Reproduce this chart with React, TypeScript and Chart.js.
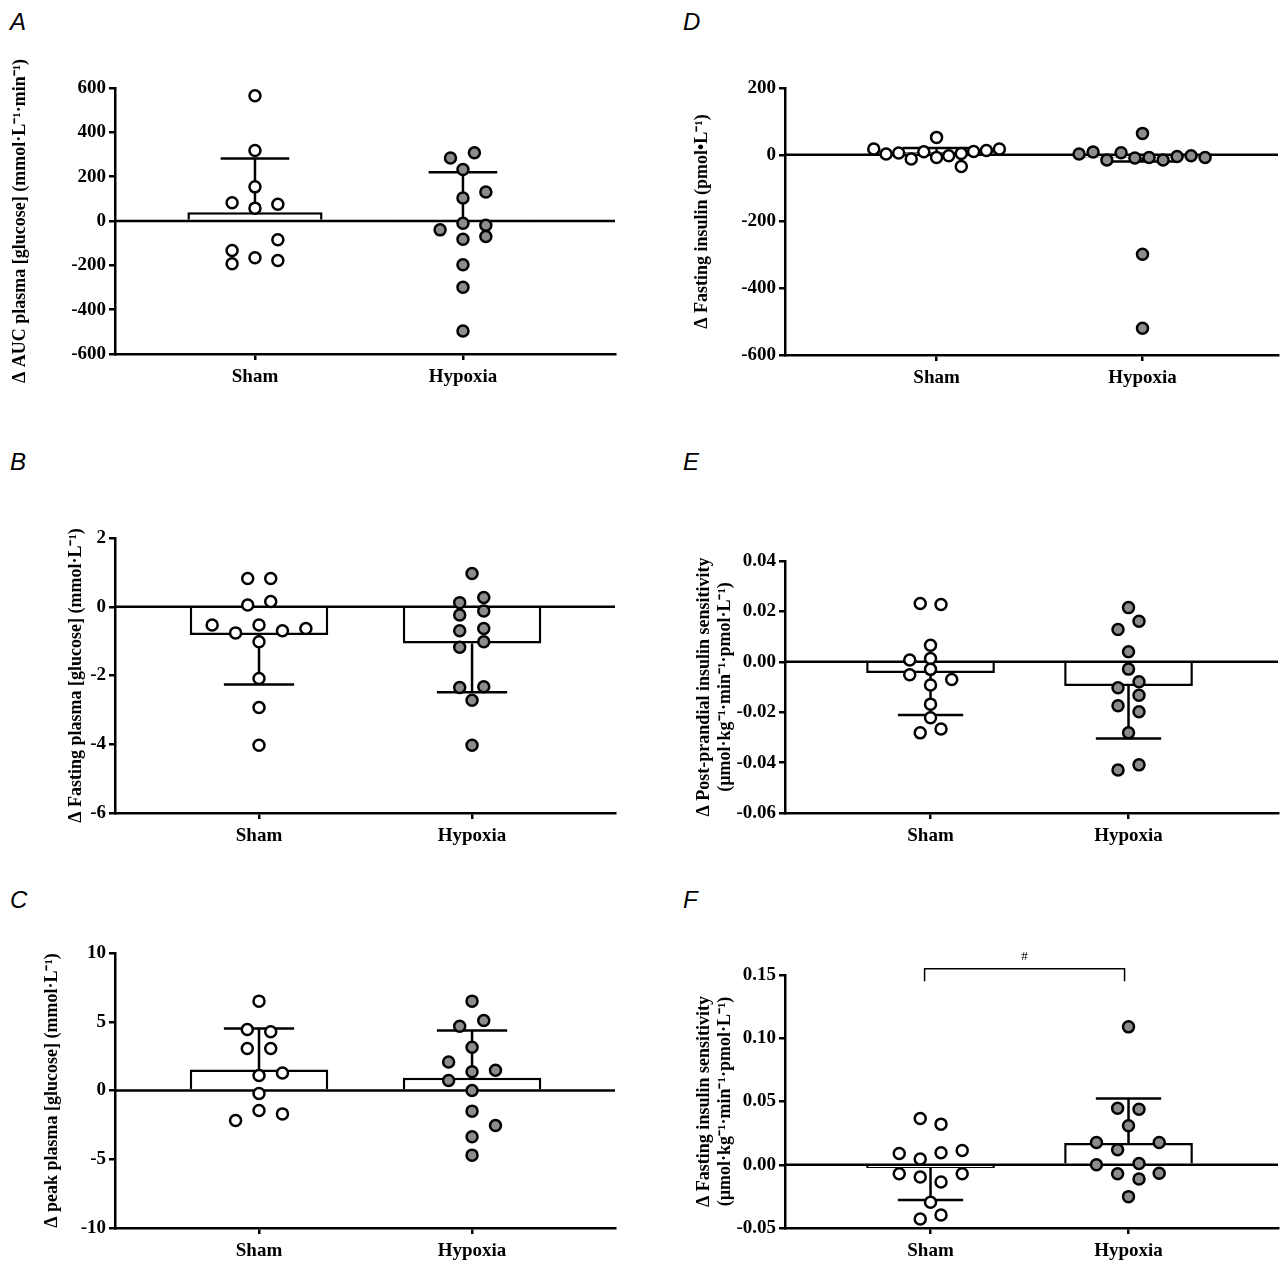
import { useEffect, useRef } from "react";
import Chart from "chart.js/auto";

const groups = ["Sham", "Hypoxia"];

// Panel A
const aTicks = [600, 400, 200, 0, -200, -400, -600];
const aMeans = [40, -3];
const aErrTips = [282, 220];
const aShamY = [565, 318, 154, 82, 58, 76, -85, -133, -193, -166, -178];
const aShamX = [0, 0, 0, -0.11, 0, 0.11, 0.11, -0.11, -0.11, 0, 0.11];
const aHypY = [284, 308, 232, 131, 104, -10, -19, -40, -70, -82, -197, -299, -496];
const aHypX = [-0.06, 0.055, 0, 0.11, 0, 0, 0.11, -0.11, 0.11, 0, 0, 0, 0];

// Panel B
const bTicks = [2, 0, -2, -4, -6];
const bMeans = [-0.82, -1.07];
const bErrTips = [-2.26, -2.49];
const bShamY = [0.82, 0.82, 0.05, 0.15, -0.53, -0.76, -0.53, -0.7, -0.63, -1.02, -2.09, -2.93, -4.03];
const bShamX = [-0.053, 0.055, -0.053, 0.055, -0.22, -0.11, 0, 0.11, 0.22, 0, 0, 0, 0];
const bHypY = [0.97, 0.12, 0.27, -0.24, -0.12, -0.7, -0.63, -1.18, -1.02, -2.35, -2.33, -2.72, -4.03];
const bHypX = [0, -0.058, 0.055, -0.058, 0.055, -0.058, 0.055, -0.058, 0.055, -0.058, 0.055, 0, 0];

// Panel C
const cTicks = [10, 5, 0, -5, -10];
const cMeans = [1.53, 0.92];
const cErrTips = [4.51, 4.36];
const cShamY = [6.5, 4.44, 4.27, 3.05, 3.05, 1.09, 1.28, -0.22, -1.45, -1.7, -2.18];
const cShamX = [0, -0.055, 0.055, -0.055, 0.055, 0, 0.11, 0, 0, 0.11, -0.11];
const cHypY = [6.5, 5.09, 4.68, 3.15, 2.08, 1.36, 1.48, 0.73, 0, -1.5, -2.55, -3.37, -4.7];
const cHypX = [0, 0.055, -0.058, 0, -0.11, 0, 0.11, -0.11, 0, 0, 0.11, 0, 0];

// Panel D
const dTicks = [200, 0, -200, -400, -600];
const dMeans = [8, -8];
const dErrTips = [20, -20];
const dShamY = [17, 2, 5, -13, 9, -8, -3, 4, -35, 10, 13, 17, 52];
const dShamX = [-0.305, -0.245, -0.184, -0.123, -0.062, 0, 0.059, 0.12, 0.12, 0.18, 0.242, 0.305, 0];
const dHypY = [2, 8, -16, 6, -10, -8, -16, -5, -3, -8, 64, -298, -520];
const dHypX = [-0.308, -0.24, -0.173, -0.104, -0.037, 0.032, 0.1, 0.168, 0.236, 0.304, 0, 0, 0];

// Panel E
const eTicks = [0.04, 0.02, 0, -0.02, -0.04, -0.06];
const eMeans = [-0.0044, -0.0096];
const eErrTips = [-0.0211, -0.0304];
const eShamY = [0.0231, 0.0227, 0.0066, 0.0007, 0.0013, -0.003, -0.0051, -0.007, -0.0092, -0.0168, -0.0222, -0.0282, -0.0267];
const eShamX = [-0.052, 0.053, 0, -0.105, 0, 0, -0.105, 0.107, 0, 0, 0, -0.052, 0.053];
const eHypY = [0.0215, 0.0161, 0.0128, 0.004, -0.0029, -0.0079, -0.0103, -0.0133, -0.0174, -0.0198, -0.0282, -0.0409, -0.0429];
const eHypX = [0, 0.053, -0.053, 0, 0, 0.053, -0.053, 0.053, -0.053, 0.053, 0, 0.053, -0.053];

// Panel F
const fTicks = [0.15, 0.1, 0.05, 0, -0.05];
const fMeans = [-0.0026, 0.0171];
const fErrTips = [-0.0279, 0.0523];
const fShamY = [0.0366, 0.0321, 0.0089, 0.0045, 0.0095, 0.0113, -0.0071, -0.0097, -0.0071, -0.0137, -0.0297, -0.0429, -0.0397];
const fShamX = [-0.052, 0.053, -0.158, -0.052, 0.053, 0.16, -0.158, -0.052, 0.16, 0.053, 0, -0.052, 0.053];
const fHypY = [0.109, 0.0447, 0.0439, 0.0308, 0.0176, 0.0176, 0.0118, 0, 0.001, -0.0071, -0.0068, -0.0113, -0.0252];
const fHypX = [0, -0.055, 0.053, 0, -0.162, 0.155, -0.055, -0.162, 0.053, -0.055, 0.155, 0.053, 0];

const SERIF = "'Liberation Serif', 'Times New Roman', serif";

interface PanelProps {
  left: number;
  top: number;
  width: number;
  height: number;
  plot: { l: number; r: number; t: number; b: number };
  xMin: number;
  xMax: number;
  padLeft: number;
  ticks: number[];
  tickLabel: (v: number) => string;
  title: string | string[];
  means: number[];
  errTips: number[];
  shamY: number[];
  shamX: number[];
  hypY: number[];
  hypX: number[];
  bracket?: boolean;
}

function Panel(p: PanelProps) {
  const ref = useRef<HTMLCanvasElement | null>(null);

  useEffect(() => {
    const canvas = ref.current;
    if (!canvas) return;
    const overlay = {
      id: "overlay",
      afterDatasetDraw(chart: any, args: any) {
        if (args.index !== 0) return;
        const { ctx, scales, chartArea } = chart;
        const x = scales.x;
        const y = scales.y;
        ctx.save();
        ctx.strokeStyle = "#000";
        ctx.lineWidth = 2.5;
        ctx.beginPath();
        ctx.moveTo(chartArea.left, y.getPixelForValue(0));
        ctx.lineTo(chartArea.right, y.getPixelForValue(0));
        ctx.stroke();
        p.means.forEach((m, i) => {
          const px = x.getPixelForValue(i);
          const y0 = y.getPixelForValue(m);
          const y1 = y.getPixelForValue(p.errTips[i]);
          ctx.beginPath();
          ctx.moveTo(px, y0);
          ctx.lineTo(px, y1);
          ctx.moveTo(x.getPixelForValue(i - 0.165), y1);
          ctx.lineTo(x.getPixelForValue(i + 0.165), y1);
          ctx.stroke();
        });
        ctx.restore();
      },
      afterDraw(chart: any) {
        if (!p.bracket) return;
        const { ctx, scales } = chart;
        const x = scales.x;
        const y = scales.y;
        const xl = x.getPixelForValue(-0.03);
        const xr = x.getPixelForValue(0.98);
        const yt = y.getPixelForValue(0.155);
        const yb = y.getPixelForValue(0.145);
        ctx.save();
        ctx.strokeStyle = "#000";
        ctx.lineWidth = 1.5;
        ctx.beginPath();
        ctx.moveTo(xl, yb);
        ctx.lineTo(xl, yt);
        ctx.lineTo(xr, yt);
        ctx.lineTo(xr, yb);
        ctx.stroke();
        ctx.fillStyle = "#000";
        ctx.font = `13px ${SERIF}`;
        ctx.textAlign = "center";
        ctx.fillText("#", (xl + xr) / 2, yt - 9);
        ctx.restore();
      },
    };

    const chart = new Chart(canvas, {
      type: "bar",
      data: {
        datasets: [
          {
            type: "bar",
            order: 3,
            data: p.means.map((m, i) => ({ x: i, y: m })),
            backgroundColor: "#fff",
            borderColor: "#000",
            borderWidth: 2.5,
            borderSkipped: "start",
            barPercentage: 0.65,
            categoryPercentage: 1,
          },
          {
            type: "scatter",
            order: 1,
            data: p.shamY.map((v, i) => ({ x: p.shamX[i], y: v })),
            backgroundColor: "#fff",
            borderColor: "#000",
            borderWidth: 2.5,
            pointRadius: 5.5,
          },
          {
            type: "scatter",
            order: 1,
            data: p.hypY.map((v, i) => ({ x: 1 + p.hypX[i], y: v })),
            backgroundColor: "#8c8c8c",
            borderColor: "#000",
            borderWidth: 2.5,
            pointRadius: 5.5,
          },
        ] as any,
      },
      options: {
        animation: false,
        responsive: false,
        layout: {
          padding: {
            left: p.padLeft,
            top: p.plot.t - p.top,
            right: p.left + p.width - p.plot.r,
            bottom: 0,
          },
        },
        plugins: { legend: { display: false }, tooltip: { enabled: false } },
        scales: {
          x: {
            type: "linear",
            min: p.xMin,
            max: p.xMax,
            offset: false,
            afterBuildTicks: (s: any) => {
              s.ticks = [{ value: 0 }, { value: 1 }];
            },
            afterFit: (s: any) => {
              s.height = p.top + p.height - p.plot.b;
            },
            ticks: {
              callback: (v: any) => groups[Number(v)] ?? "",
              color: "#000",
              font: { family: SERIF, size: 19, weight: "bold" },
              padding: 6,
              maxRotation: 0,
            },
            grid: { offset: false, drawOnChartArea: false, color: "#000", lineWidth: 2.5, tickLength: 6 },
            border: { color: "#000", width: 2.5 },
          },
          y: {
            min: p.ticks[p.ticks.length - 1],
            max: p.ticks[0],
            afterBuildTicks: (s: any) => {
              s.ticks = p.ticks.map((v) => ({ value: v }));
            },
            afterFit: (s: any) => {
              s.width = p.plot.l - p.left - p.padLeft;
            },
            ticks: {
              callback: (v: any) => p.tickLabel(Number(v)),
              color: "#000",
              font: { family: SERIF, size: 19, weight: "bold" },
              padding: 3,
            },
            grid: { drawOnChartArea: false, color: "#000", lineWidth: 2.5, tickLength: 6 },
            border: { color: "#000", width: 2.5 },
            title: {
              display: true,
              text: p.title,
              color: "#000",
              font: { family: SERIF, size: 18, weight: "bold", lineHeight: 1.15 },
              padding: 2,
            },
          },
        },
      } as any,
      plugins: [overlay],
    });
    return () => chart.destroy();
  }, [p]);

  return (
    <canvas
      ref={ref}
      width={p.width}
      height={p.height}
      style={{ position: "absolute", left: p.left, top: p.top, width: p.width, height: p.height }}
    />
  );
}

const letterStyle = (left: number, top: number): React.CSSProperties => ({
  position: "absolute",
  left,
  top,
  fontFamily: "'Liberation Sans', Arial, sans-serif",
  fontStyle: "italic",
  fontSize: 24,
  color: "#000",
});

const unit = "µmol·kg⁻¹·min⁻¹·pmol·L⁻¹";

const panels: PanelProps[] = [
  {
    left: 0, top: 40, width: 630, height: 360, plot: { l: 115, r: 615, t: 88, b: 354 },
    xMin: -0.673, xMax: 1.731, padLeft: 8, ticks: aTicks, tickLabel: (v) => String(v),
    title: "Δ AUC plasma [glucose] (mmol·L⁻¹·min⁻¹)",
    means: aMeans, errTips: aErrTips, shamY: aShamY, shamX: aShamX, hypY: aHypY, hypX: aHypX,
  },
  {
    left: 0, top: 470, width: 630, height: 390, plot: { l: 115, r: 615, t: 538, b: 813 },
    xMin: -0.676, xMax: 1.671, padLeft: 64, ticks: bTicks, tickLabel: (v) => String(v),
    title: "Δ Fasting plasma [glucose] (mmol·L⁻¹)",
    means: bMeans, errTips: bErrTips, shamY: bShamY, shamX: bShamX, hypY: bHypY, hypX: bHypX,
  },
  {
    left: 0, top: 895, width: 630, height: 366, plot: { l: 115, r: 615, t: 953, b: 1228 },
    xMin: -0.676, xMax: 1.671, padLeft: 40, ticks: cTicks, tickLabel: (v) => String(v),
    title: "Δ peak plasma [glucose] (mmol·L⁻¹)",
    means: cMeans, errTips: cErrTips, shamY: cShamY, shamX: cShamX, hypY: cHypY, hypX: cHypX,
  },
  {
    left: 650, top: 40, width: 636, height: 360, plot: { l: 785, r: 1283, t: 88, b: 355 },
    xMin: -0.736, xMax: 1.658, padLeft: 40, ticks: dTicks, tickLabel: (v) => String(v),
    title: "Δ Fasting insulin (pmol•L⁻¹)",
    means: dMeans, errTips: dErrTips, shamY: dShamY, shamX: dShamX, hypY: dHypY, hypX: dHypX,
  },
  {
    left: 650, top: 470, width: 636, height: 390, plot: { l: 785, r: 1283, t: 561, b: 813 },
    xMin: -0.735, xMax: 1.755, padLeft: 42, ticks: eTicks, tickLabel: (v) => v.toFixed(2),
    title: ["Δ Post-prandial insulin sensitivity", `(${unit})`],
    means: eMeans, errTips: eErrTips, shamY: eShamY, shamX: eShamX, hypY: eHypY, hypX: eHypX,
  },
  {
    left: 650, top: 895, width: 636, height: 366, plot: { l: 785, r: 1283, t: 975, b: 1228 },
    xMin: -0.735, xMax: 1.755, padLeft: 42, ticks: fTicks, tickLabel: (v) => v.toFixed(2),
    title: ["Δ Fasting insulin sensitivity", `(${unit})`],
    means: fMeans, errTips: fErrTips, shamY: fShamY, shamX: fShamX, hypY: fHypY, hypX: fHypX,
    bracket: true,
  },
];

export default function App() {
  return (
    <div style={{ position: "absolute", left: 0, top: 0, width: 1286, height: 1261, background: "#fff" }}>
      <div style={letterStyle(10, 8)}>A</div>
      <div style={letterStyle(10, 448)}>B</div>
      <div style={letterStyle(10, 886)}>C</div>
      <div style={letterStyle(683, 8)}>D</div>
      <div style={letterStyle(683, 448)}>E</div>
      <div style={letterStyle(683, 886)}>F</div>
      {panels.map((p, i) => (
        <Panel key={i} {...p} />
      ))}
    </div>
  );
}
